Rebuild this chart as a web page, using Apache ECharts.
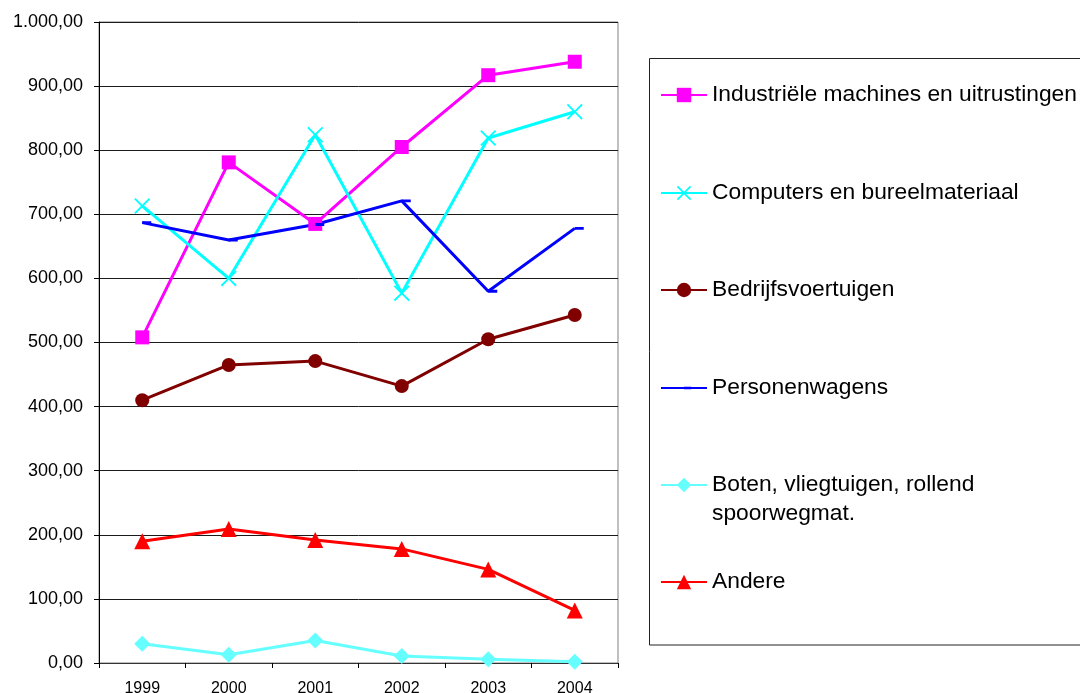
<!DOCTYPE html>
<html>
<head>
<meta charset="utf-8">
<script src="https://cdn.jsdelivr.net/npm/echarts@6/dist/echarts.min.js"></script>
<style>
html,body{margin:0;padding:0;background:#fff;}
#chart{width:1080px;height:693px;}
</style>
</head>
<body>
<div id="chart"></div>
<script>
const years = ['1999','2000','2001','2002','2003','2004'];
const seriesNames = [
  'Industriële machines en uitrustingen',
  'Computers en bureelmateriaal',
  'Bedrijfsvoertuigen',
  'Personenwagens',
  'Boten, vliegtuigen, rollend\nspoorwegmat.',
  'Andere'
];
const industriele = [508, 781, 685, 805, 917, 938];
const computers = [713, 600, 824, 577, 819, 860];
const bedrijfs = [410, 465, 471, 432, 505, 543];
const personen = [687, 660, 684, 721, 580, 678];
const boten = [30, 13, 35, 11, 6, 2];
const andere = [190, 209, 192, 178, 146, 82];
const yTicks = [0, 100, 200, 300, 400, 500, 600, 700, 800, 900, 1000];

function fmt(v){
  const s = Math.round(v).toString();
  const withDots = s.replace(/\B(?=(\d{3})+(?!\d))/g, '.');
  return withDots + ',00';
}

const FONT = 'Liberation Sans, Arial, sans-serif';
const chart = echarts.init(document.getElementById('chart'), null, {renderer:'canvas'});

const xPath = 'path://M0,1.3 L1.3,0 L8,6.7 L14.7,0 L16,1.3 L9.3,8 L16,14.7 L14.7,16 L8,9.3 L1.3,16 L0,14.7 L6.7,8 Z';
// square bounding box (0..10) with a short dash from centre to the right
const dashPath = 'path://M0,0 L0,0 Z M10,10 L10,10 Z M5,4.2 L10,4.2 L10,5.8 L5,5.8 Z';

const defs = [
  {name: seriesNames[0], data: industriele, color:'#FF00FF', symbol:'rect', size:14},
  {name: seriesNames[1], data: computers, color:'#00FFFF', symbol:xPath, size:16},
  {name: seriesNames[2], data: bedrijfs, color:'#800000', symbol:'circle', size:14},
  {name: seriesNames[3], data: personen, color:'#0000FF', symbol:dashPath, size:18},
  {name: seriesNames[4], data: boten, color:'#66FFFF', symbol:'diamond', size:16},
  {name: seriesNames[5], data: andere, color:'#FF0000', symbol:'triangle', size:16}
];

const rowCenters = [95, 193, 290, 388, 485, 582];
const legends = defs.map((d, i) => {
  const isMulti = i === 4;
  return {
    data: [d.name],
    left: 660,
    top: isMulti ? rowCenters[i] - 43.5 : rowCenters[i] - 14.5,
    orient: 'vertical',
    padding: 0,
    itemWidth: 46,
    itemHeight: 18,
    itemGap: 5,
    selectedMode: false,
    formatter: isMulti ? (n => '\n' + n) : (n => n),
    textStyle: {
      fontFamily: FONT,
      fontSize: 22.8,
      color: '#000',
      lineHeight: 29
    }
  };
});

const option = {
  animation: false,
  backgroundColor: '#fff',
  grid: {left: 99, right: 462, top: 22, bottom: 30, containLabel: false, outerBoundsMode: 'none',
    show: true, borderColor: '#808080', borderWidth: 1},
  graphic: [{
    type: 'rect',
    shape: {x: 649.5, y: 58.5, width: 440, height: 586.5},
    style: {fill: 'none', stroke: '#222', lineWidth: 1},
    silent: true,
    z: 0
  }],
  legend: legends,
  xAxis: {
    type: 'category',
    data: years,
    boundaryGap: true,
    axisLine: {show: true, lineStyle: {color: '#333', width: 1}},
    axisTick: {show: true, inside: false, length: 5, alignWithLabel: false, lineStyle: {color: '#000'}},
    axisLabel: {fontFamily: FONT, fontSize: 16, color: '#000', margin: 18},
    splitLine: {show: false}
  },
  yAxis: {
    type: 'value',
    min: 0,
    max: 1000,
    interval: 100,
    axisLine: {show: true, lineStyle: {color: '#000', width: 1}},
    axisTick: {show: true, inside: false, length: 5, lineStyle: {color: '#000'}},
    axisLabel: {fontFamily: FONT, fontSize: 18, color: '#000', margin: 16,
      formatter: v => yTicks.indexOf(v) >= 0 ? fmt(v) : ''},
    splitLine: {show: true, lineStyle: {color: '#1a1a1a', width: 1}}
  },
  series: defs.map(d => ({
    name: d.name,
    type: 'line',
    data: d.data,
    symbol: d.symbol,
    symbolSize: d.size,
    showAllSymbol: true,
    lineStyle: {color: d.color, width: 3},
    itemStyle: {color: d.color},
    emphasis: {disabled: true}
  }))
};
chart.setOption(option);
</script>
</body>
</html>
